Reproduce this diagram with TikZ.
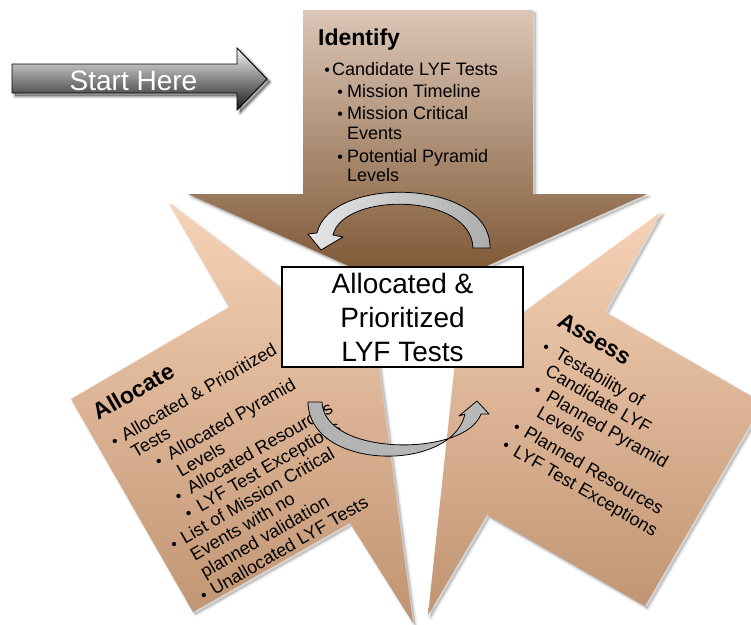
\documentclass[tikz,border=0pt]{standalone}
\usepackage{fontspec}
\setmainfont{Liberation Sans}
\definecolor{idtop}{RGB}{220,198,182}
\definecolor{idbot}{RGB}{118,78,42}
\definecolor{pchtop}{RGB}{246,210,182}
\definecolor{pchbot}{RGB}{192,148,114}
% outlines of the three stage shapes and of the start arrow
\newcommand\identifyoutline{(303,10) -- (533,10) -- (533,194) -- (647,194) -- (418,297)
  -- (188,194) -- (303,194) -- cycle}
\newcommand\allocateoutline{(71,399) -- (229,307) -- (169,203) -- (378,361) -- (413,623)
  -- (350,523) -- (193,612) -- cycle}
\newcommand\assessoutline{(605,312) -- (763,403) -- (645,606) -- (487,515) -- (428,615)
  -- (455,362) -- (661,212) -- cycle}
\newcommand\startoutline{(12,64) -- (237,64) -- (237,48) -- (267,79) -- (237,110)
  -- (237,93) -- (12,93) -- cycle}
% soft drop shadow: a few translucent, widening copies of an outline
\newcommand\softshade[3]{%
  \foreach \w in {4.5,2.5,0.8}{%
    \path[fill=black,fill opacity=#2,draw=black,draw opacity=#2,line width=\w pt,
          line join=round,shift={(#3,#3)}] #1;}}
% list lines: bullet centred at #1, text #2 further on; plain continuation line
\newcommand\bulletglyph{\makebox[0pt]{\fontsize{16}{16}\selectfont •}}
\newcommand\bitem[3]{\hbox{\hskip#1pt\bulletglyph\hskip#2pt #3}}
\newcommand\contline[2]{\hbox{\hskip#1pt #2}}
\newcommand\listsetup[1]{\baselineskip=#1pt\lineskiplimit=-100pt\lineskip=0pt}
\begin{document}
\begin{tikzpicture}[x=1pt,y=-1pt,
  heading/.style={anchor=base west,inner sep=0pt,transform shape,
      font=\fontsize{23}{26}\selectfont\bfseries},
  itemlist/.style={anchor=base west,inner sep=0pt,transform shape,
      font=\fontsize{18}{20}\selectfont},
  cyclearrow/.style={draw=black,line width=0.8pt,line join=round},
]
\useasboundingbox (0,0) rectangle (751,624);
\clip (0,0) rectangle (751,624);

% ---------- the three stage shapes ----------
\softshade{\identifyoutline}{0.05}{2.5}
\softshade{\allocateoutline}{0.05}{2.5}
\softshade{\assessoutline}{0.05}{2.5}
\path[top color=idtop,bottom color=idbot] \identifyoutline;
\path[top color=pchtop,bottom color=pchbot] \allocateoutline;
\path[top color=pchtop,bottom color=pchbot] \assessoutline;

% ---------- Identify ----------
\begin{scope}[shift={(303,10)}]
  \node[heading] (idT) at (15,35) {Identify};
  \node[itemlist] (idL) at (20,65.7) {\vtop{\listsetup{20}%
    \bitem{4}{5}{Candidate LYF Tests}\vskip2pt
    \bitem{17}{7}{Mission Timeline}\vskip1.3pt
    \bitem{17}{7}{Mission Critical}
    \contline{24}{Events}\vskip3.7pt
    \bitem{17}{7}{Potential Pyramid}\vskip-1pt
    \contline{24}{Levels}}};
\end{scope}

% ---------- Allocate ----------
\begin{scope}[shift={(71,399)},rotate=30]
  \node[heading] (alT) at (13,33) {Allocate};
  \node[itemlist] (alL) at (10,64) {\vtop{\listsetup{19.8}%
    \bitem{6.5}{9.5}{Allocated \& Prioritized}
    \contline{16}{Tests}
    \bitem{34.5}{11.5}{Allocated Pyramid}
    \contline{46}{Levels}
    \bitem{34.5}{11.5}{Allocated Resources}
    \bitem{34.5}{11.5}{LYF Test Exceptions}
    \bitem{6.5}{9.5}{List of Mission Critical}
    \contline{16}{Events with no}
    \contline{16}{planned validation}
    \bitem{6.5}{9.5}{Unallocated LYF Tests}}};
\end{scope}

% ---------- Assess ----------
\begin{scope}[shift={(605,312)},rotate=-30]
  \node[heading] (asT) at (-36,36) {Assess};
  \node[itemlist] (asL) at (-40,65) {\vtop{\listsetup{20}%
    \bitem{6.5}{12}{Testability of}
    \contline{18.5}{Candidate LYF}\vskip1.5pt
    \bitem{20.5}{11.5}{Planned Pyramid}\vskip-1pt
    \contline{32}{Levels}\vskip3.5pt
    \bitem{21}{10}{Planned Resources}\vskip1.5pt
    \bitem{21}{10}{LYF Test Exceptions}}};
\end{scope}

% ---------- central result box ----------
\node[draw=black,line width=1.1pt,fill=white,minimum width=241pt,minimum height=100pt,
      align=center,inner sep=0pt,font=\fontsize{28}{34}\selectfont]
  (result) at (402.5,317) {Allocated \&\\Prioritized\\LYF Tests};

% ---------- cycle arrows ----------
\path[cyclearrow,left color=gray!20,middle color=gray!50,right color=gray!65]
  (490,248) .. controls (491,178) and (330,175) .. (317,233)
  -- (308,234) -- (321,250) -- (343,237) -- (333,235)
  .. controls (343,192) and (471,192) .. (473,248) -- cycle;
\path[cyclearrow,left color=gray!60,middle color=black!82,right color=gray!55]
  (308,402) .. controls (309,471) and (452,473) .. (465,414)
  -- (459,416) -- (477,401) -- (489,414) -- (481,414)
  .. controls (466,457) and (324,457) .. (322,402) -- cycle;

% ---------- start arrow ----------
\softshade{\startoutline}{0.12}{3}
\path[draw=black,line width=0.9pt,line join=miter,top color=gray!8,bottom color=black!90]
  \startoutline;
\node[anchor=base,inner sep=0pt,text=white,font=\fontsize{28}{30}\selectfont]
  (start) at (133.5,90) {Start Here};
\end{tikzpicture}
\end{document}
